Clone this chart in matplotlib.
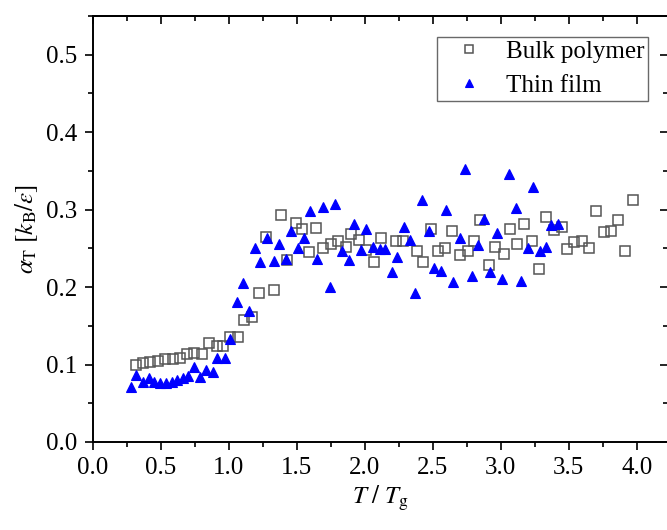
import matplotlib
matplotlib.use("Agg")
import matplotlib.pyplot as plt
from matplotlib.ticker import MultipleLocator, FormatStrFormatter

# ---- data ----
bulk_x = [0.32, 0.37, 0.42, 0.48, 0.53, 0.59, 0.64, 0.69, 0.74, 0.80, 0.85, 0.91, 0.96,
          1.01, 1.07, 1.11, 1.17, 1.22, 1.27, 1.33, 1.38, 1.43, 1.49, 1.54, 1.59, 1.64,
          1.69, 1.75, 1.80, 1.86, 1.90, 1.96, 2.01, 2.07, 2.12, 2.23, 2.28, 2.38, 2.43,
          2.49, 2.54, 2.59, 2.64, 2.70, 2.76, 2.80, 2.85, 2.91, 2.96, 3.02, 3.07, 3.12,
          3.17, 3.23, 3.28, 3.33, 3.39, 3.45, 3.49, 3.54, 3.60, 3.65, 3.70, 3.76, 3.81,
          3.86, 3.91, 3.97]
bulk_y = [0.100, 0.102, 0.103, 0.104, 0.107, 0.107, 0.109, 0.113, 0.115, 0.113, 0.128, 0.124, 0.124,
          0.136, 0.135, 0.158, 0.162, 0.193, 0.265, 0.196, 0.293, 0.235, 0.283, 0.275, 0.245, 0.276,
          0.251, 0.256, 0.260, 0.252, 0.269, 0.261, 0.248, 0.232, 0.263, 0.259, 0.259, 0.247, 0.232,
          0.275, 0.246, 0.250, 0.273, 0.242, 0.246, 0.260, 0.286, 0.228, 0.252, 0.243, 0.275, 0.256,
          0.282, 0.259, 0.224, 0.290, 0.274, 0.277, 0.249, 0.258, 0.260, 0.250, 0.298, 0.271, 0.273,
          0.287, 0.246, 0.313]

film_x = [0.28, 0.32, 0.37, 0.41, 0.45, 0.49, 0.54, 0.58, 0.62, 0.66, 0.70, 0.74, 0.79, 0.83,
          0.88, 0.91, 0.97, 1.01, 1.06, 1.10, 1.15, 1.19, 1.23, 1.28, 1.33, 1.37, 1.42, 1.46,
          1.51, 1.55, 1.60, 1.65, 1.69, 1.74, 1.78, 1.83, 1.88, 1.92, 1.97, 2.01, 2.06, 2.11,
          2.15, 2.20, 2.24, 2.29, 2.33, 2.37, 2.42, 2.47, 2.51, 2.56, 2.60, 2.65, 2.70, 2.74,
          2.79, 2.83, 2.88, 2.92, 2.97, 3.01, 3.06, 3.11, 3.15, 3.20, 3.24, 3.29, 3.33, 3.37,
          3.42]
film_y = [0.071, 0.087, 0.078, 0.083, 0.077, 0.076, 0.076, 0.078, 0.080, 0.082, 0.085, 0.097, 0.084, 0.093,
          0.090, 0.109, 0.109, 0.133, 0.181, 0.205, 0.169, 0.250, 0.233, 0.264, 0.234, 0.255, 0.236, 0.273,
          0.251, 0.264, 0.298, 0.236, 0.304, 0.200, 0.307, 0.246, 0.235, 0.282, 0.248, 0.275, 0.252, 0.249,
          0.249, 0.220, 0.239, 0.278, 0.261, 0.192, 0.313, 0.273, 0.225, 0.221, 0.300, 0.206, 0.263, 0.352,
          0.214, 0.254, 0.288, 0.219, 0.270, 0.210, 0.346, 0.302, 0.208, 0.251, 0.329, 0.246, 0.252, 0.280,
          0.281]

series_labels = ["Bulk polymer", "Thin film"]

plt.rcParams['font.family'] = ['Liberation Serif', 'DejaVu Serif']
plt.rcParams['mathtext.fontset'] = 'stix'
FS = 18

fig = plt.figure(figsize=(6.67, 5.30), dpi=100)
ax = fig.add_axes([93/667, 88/530, 575/667, 426/530])

ax.plot(bulk_x, bulk_y, linestyle='none', marker='s', markersize=7,
        markerfacecolor='none', markeredgecolor='#555555', markeredgewidth=1.1,
        label=series_labels[0])
ax.plot(film_x, film_y, linestyle='none', marker='^', markersize=7.5,
        markerfacecolor='#0000ff', markeredgecolor='#0000ff', markeredgewidth=0.8,
        label=series_labels[1])

ax.set_xlim(0, 4.23)
ax.set_ylim(0, 0.55)
ax.xaxis.set_major_locator(MultipleLocator(0.5))
ax.xaxis.set_minor_locator(MultipleLocator(0.25))
ax.yaxis.set_major_locator(MultipleLocator(0.1))
ax.yaxis.set_minor_locator(MultipleLocator(0.05))
ax.xaxis.set_major_formatter(FormatStrFormatter('%.1f'))
ax.yaxis.set_major_formatter(FormatStrFormatter('%.1f'))

ax.tick_params(which='both', direction='out', width=1.2, labelsize=FS, pad=5)
ax.tick_params(which='major', length=6)
ax.tick_params(which='minor', length=3.5)

for s in ax.spines.values():
    s.set_linewidth(1.4)

top = ax.secondary_xaxis('top')
top.xaxis.set_major_locator(MultipleLocator(0.5))
top.xaxis.set_minor_locator(MultipleLocator(0.25))
top.tick_params(which='both', direction='in', width=1.2, labeltop=False)
top.tick_params(which='major', length=6)
top.tick_params(which='minor', length=3.5)
right = ax.secondary_yaxis('right')
right.yaxis.set_major_locator(MultipleLocator(0.1))
right.yaxis.set_minor_locator(MultipleLocator(0.05))
right.tick_params(which='both', direction='in', width=1.2, labelright=False)
right.tick_params(which='major', length=6)
right.tick_params(which='minor', length=3.5)
top.spines['top'].set_linewidth(1.4)
right.spines['right'].set_linewidth(1.4)

ax.set_xlabel(r'$T\ /\ T_{\rm g}$', fontsize=FS, labelpad=3)
ax.set_ylabel(r'$\alpha_{\rm T}\ [k_{\rm B}/\varepsilon]$', fontsize=FS, labelpad=5)

leg = ax.legend(loc='upper right', bbox_to_anchor=(0.965, 0.951), borderaxespad=0,
                fontsize=FS, frameon=True, fancybox=False, markerscale=0.75,
                handletextpad=0.3, borderpad=0.15, labelspacing=0.45, handlelength=2.3)
leg.get_frame().set_edgecolor('#444444')
leg.get_frame().set_linewidth(1.0)

fig.savefig('out.png', dpi=100)
